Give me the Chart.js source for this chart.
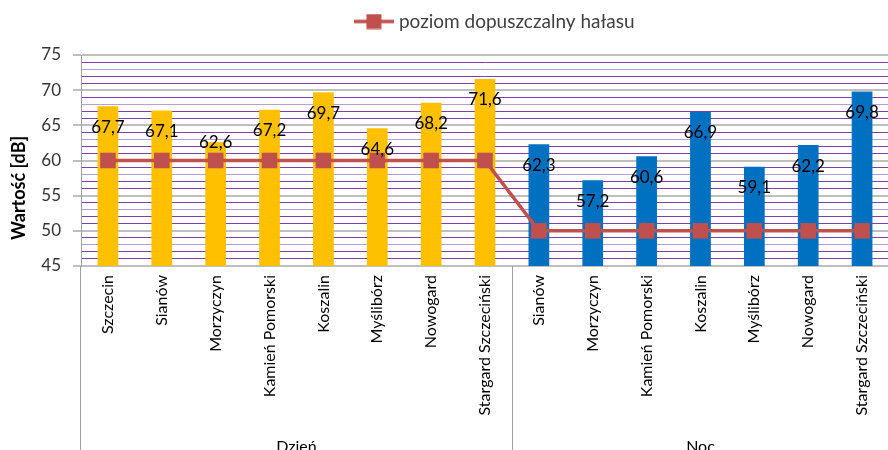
<!DOCTYPE html>
<html lang="pl">
<head>
<meta charset="UTF-8">
<title>Poziom hałasu - dzień i noc</title>
<script src="https://cdn.jsdelivr.net/npm/chart.js"></script>
<style>
  html, body { margin: 0; padding: 0; background: #fff; overflow: hidden; }
  #wrap { width: 900px; height: 450px; }
</style>
</head>
<body>
<div id="wrap"><canvas id="noiseChart" width="900" height="450"></canvas></div>

<script>
  const groups = ['Dzień', 'Noc'];
  const dayTowns = ['Szczecin', 'Sianów', 'Morzyczyn', 'Kamień Pomorski', 'Koszalin', 'Myślibórz', 'Nowogard', 'Stargard Szczeciński'];
  const nightTowns = ['Sianów', 'Morzyczyn', 'Kamień Pomorski', 'Koszalin', 'Myślibórz', 'Nowogard', 'Stargard Szczeciński'];
  const dayValues = [67.7, 67.1, 62.6, 67.2, 69.7, 64.6, 68.2, 71.6];
  const nightValues = [62.3, 57.2, 60.6, 66.9, 59.1, 62.2, 69.8];
  const limitValues = [60, 60, 60, 60, 60, 60, 60, 60, 50, 50, 50, 50, 50, 50, 50];
  const yTicks = [45, 50, 55, 60, 65, 70, 75];

  const categories = dayTowns.concat(nightTowns);
  const barValues = dayValues.concat(nightValues);
  const barColors = categories.map((c, i) => i < dayTowns.length ? '#FFC000' : '#0070C0');

  // value labels sit ~21px under the bar top; Morzyczyn (day) was nudged up in the original
  const labelDrop = 21;
  const raisedLabels = [2];

  // legend symbol: line with a square marker
  const legendIcon = document.createElement('canvas');
  legendIcon.width = 40;
  legendIcon.height = 16;
  (function () {
    const g = legendIcon.getContext('2d');
    g.strokeStyle = '#C0504D';
    g.lineWidth = 3.5;
    g.beginPath();
    g.moveTo(0, 8);
    g.lineTo(40, 8);
    g.stroke();
    g.fillStyle = '#C0504D';
    g.fillRect(12.5, 0.5, 15, 15);
  })();

  // legend block is 55px tall and sits a bit right of centre, like the original
  const legendSpace = {
    id: 'legendSpace',
    beforeLayout(chart) {
      const lg = chart.legend;
      if (lg && !lg._patched) {
        const fit = lg.fit;
        lg.fit = function () { fit.call(this); this.height = 55; };
        lg._patched = true;
      }
    },
    afterLayout(chart) {
      chart.legend.left += 37;
      chart.legend.right += 37;
    }
  };

  const extras = {
    id: 'extras',
    afterDatasetsDraw(chart) {
      const ctx = chart.ctx;
      const bars = chart.getDatasetMeta(0).data;
      ctx.save();
      ctx.font = '17px Lato';
      ctx.fillStyle = '#000';
      ctx.textAlign = 'center';
      ctx.textBaseline = 'middle';
      barValues.forEach((v, i) => {
        const drop = raisedLabels.includes(i) ? 0 : labelDrop;
        ctx.fillText(v.toFixed(1).replace('.', ','), bars[i].x, bars[i].y + drop);
      });
      ctx.restore();
    },
    afterDraw(chart) {
      const { ctx, chartArea } = chart;
      const x = chart.scales.x;
      const split = (x.getPixelForValue(dayTowns.length - 1) + x.getPixelForValue(dayTowns.length)) / 2;
      ctx.save();
      ctx.strokeStyle = '#A0A0A0';
      ctx.lineWidth = 1;
      ctx.beginPath();
      ctx.moveTo(chartArea.left - 0.5, chartArea.bottom);
      ctx.lineTo(chartArea.left - 0.5, chart.height);
      ctx.moveTo(Math.round(split) + 0.5, chartArea.bottom);
      ctx.lineTo(Math.round(split) + 0.5, chart.height);
      ctx.stroke();

      ctx.fillStyle = '#000';
      ctx.font = '16px Lato';
      ctx.textAlign = 'center';
      ctx.textBaseline = 'alphabetic';
      ctx.fillText(groups[0], (chartArea.left + split) / 2, 452);
      ctx.fillText(groups[1], (split + chartArea.right) / 2, 452);

      ctx.translate(19, 188);
      ctx.rotate(-Math.PI / 2);
      ctx.font = 'bold 18px Lato';
      ctx.textBaseline = 'middle';
      ctx.fillText('Wartość [dB]', 0, 0);
      ctx.restore();
    }
  };

  Chart.defaults.font.family = 'Lato';

  const ctx = document.getElementById('noiseChart').getContext('2d');
  new Chart(ctx, {
    data: {
      labels: categories,
      datasets: [
        {
          type: 'bar',
          label: 'pomiar',
          data: barValues,
          backgroundColor: barColors,
          barPercentage: 0.385,
          categoryPercentage: 1,
          order: 1
        },
        {
          type: 'line',
          label: 'poziom dopuszczalny hałasu',
          data: limitValues,
          borderColor: '#C0504D',
          backgroundColor: '#C0504D',
          borderWidth: 3.5,
          pointStyle: 'rect',
          pointRadius: 11,
          pointBorderWidth: 0,
          tension: 0,
          order: 0
        }
      ]
    },
    options: {
      responsive: false,
      animation: false,
      layout: { padding: { left: 20, right: 1, top: 0, bottom: 0 } },
      plugins: {
        tooltip: { enabled: false },
        legend: {
          position: 'top',
          labels: {
            usePointStyle: true,
            pointStyleWidth: 31,
            padding: 12,
            color: '#404040',
            font: { size: 19 },
            generateLabels(chart) {
              const items = Chart.defaults.plugins.legend.labels.generateLabels(chart);
              return items.filter(it => it.datasetIndex === 1)
                .map(it => Object.assign(it, { pointStyle: legendIcon }));
            }
          }
        }
      },
      scales: {
        x: {
          type: 'category',
          offset: true,
          grid: { display: false, drawTicks: false },
          border: { display: false },
          ticks: {
            autoSkip: false,
            maxRotation: 90,
            minRotation: 90,
            padding: 9,
            color: '#000',
            font: { size: 16 }
          },
          afterFit(scale) { scale.height = 184; }
        },
        y: {
          min: 45,
          max: 75,
          ticks: {
            stepSize: 1,
            autoSkip: false,
            padding: 12,
            color: '#333',
            font: { size: 17 },
            callback: v => yTicks.includes(v) ? v : ''
          },
          grid: {
            color: c => yTicks.includes(c.tick.value) ? '#BFBFBF' : (c.tick.value % 5 === 3 ? '#B89CD6' : '#7B3FB0'),
            lineWidth: c => yTicks.includes(c.tick.value) ? 2 : 1,
            tickColor: c => yTicks.includes(c.tick.value) ? '#BFBFBF' : 'rgba(0,0,0,0)',
            tickLength: 8
          },
          border: { display: true, color: '#A0A0A0', width: 1 },
          afterFit(scale) { scale.width = 61; }
        }
      }
    },
    plugins: [legendSpace, extras]
  });
</script>
</body>
</html>
